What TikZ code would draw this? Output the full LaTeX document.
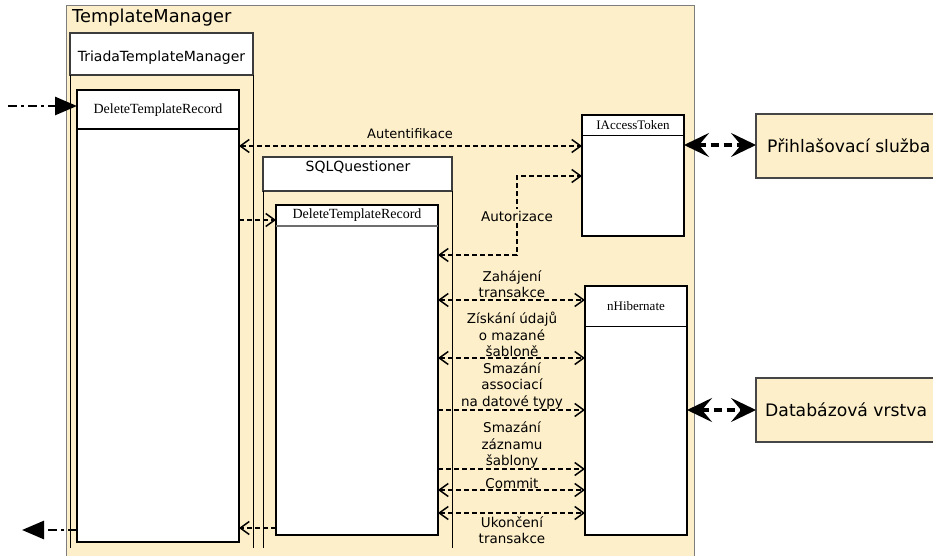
\documentclass[tikz,border=0pt]{standalone}
\usepackage{fontspec}
\setmainfont{DejaVu Sans}
\newfontfamily\headserif{Liberation Serif}
\usetikzlibrary{arrows.meta,calc}

\definecolor{cream}{RGB}{253,239,201}
\definecolor{frame}{RGB}{125,125,125}

\tikzset{
  box/.style={rectangle, anchor=north west, inner sep=0pt, outer sep=0pt},
  lifehead/.style={box, draw={rgb,255:red,60;green,60;blue,60}, line width=1.1pt, fill=white},
  activation/.style={box, draw=black, line width=2.2pt, fill=white},
  iface/.style={box, draw=black, line width=1.8pt, fill=white},
  extbox/.style={box, draw={rgb,255:red,70;green,70;blue,70}, line width=1.1pt, fill=cream},
  lifeline/.style={draw=black, line width=0.8pt},
  msg/.style={draw=black, line width=1.5pt, dash pattern=on 5pt off 3pt},
  msgtip/.tip={Straight Barb[length=9pt,width=13pt]},
  bigtip/.tip={Stealth[length=25pt,width=24pt,inset=10pt]},
  call/.style={draw=black, line width=2.8pt, dash pattern=on 9pt off 4pt on 3pt off 4pt,
    arrows={-Triangle[length=22pt,width=18pt]}},
  ext/.style={draw=black, line width=3.4pt, dash pattern=on 8pt off 5pt, arrows={bigtip-bigtip}},
  lbl/.style={align=center, inner sep=0pt, font=\fontsize{13.5}{16.5}\selectfont},
  serifhd/.style={inner sep=0pt, font=\headserif\fontsize{14}{16}\selectfont},
}

\begin{document}
\begin{tikzpicture}[x=1pt,y=-1pt]
\useasboundingbox (0,0) rectangle (933,556);
\clip (0,0) rectangle (933,556);

% component frame
\node[box, draw=frame, line width=1pt, fill=cream, minimum width=628, minimum height=570] (tm) at (66,6) {};
\node[anchor=west, inner sep=0pt, font=\fontsize{17.8}{20}\selectfont] (tmname) at (72,18) {TemplateManager};

% lifeline heads
\node[lifehead, minimum width=183, minimum height=42] (tri) at (70,33) {};
\node[inner sep=0pt, font=\fontsize{14}{16}\selectfont] (triname) at (161.5,58) {TriadaTemplateManager};
\draw[lifeline] (tri.south west) -- (tri.south west |- 0,548);
\draw[lifeline] (tri.south east) -- (tri.south east |- 0,548);

\node[lifehead, minimum width=189, minimum height=34] (sql) at (263,157) {};
\node[inner sep=0pt, font=\fontsize{14}{16}\selectfont] (sqlname) at (358,167) {SQLQuestioner};
\draw[lifeline] (sql.south west) -- (sql.south west |- 0,548);
\draw[lifeline] (sql.south east) -- (sql.south east |- 0,548);

% activations
\node[activation, minimum width=162, minimum height=452] (tdtr) at (77,90) {};
\draw[line width=1.3pt] ($(tdtr.north west)+(0,39)$) -- ($(tdtr.north east)+(0,39)$);
\node[serifhd] (tdtrname) at (158,110) {DeleteTemplateRecord};

\node[activation, minimum width=162, minimum height=330] (sdtr) at (276,205) {};
\draw[line width=1.8pt, draw={rgb,255:red,110;green,110;blue,110}] ($(sdtr.north west)+(0,21)$) -- ($(sdtr.north east)+(0,21)$);
\node[serifhd] (sdtrname) at (357,215) {DeleteTemplateRecord};

% interfaces
\node[iface, minimum width=102, minimum height=121] (iat) at (582,115) {};
\draw[line width=0.9pt] ($(iat.north west)+(0,20)$) -- ($(iat.north east)+(0,20)$);
\node[serifhd, font=\headserif\fontsize{13}{15}\selectfont] (iatname) at (633,125) {IAccessToken};

\node[iface, minimum width=102, minimum height=249] (nh) at (585,286) {};
\draw[line width=0.9pt] ($(nh.north west)+(0,40)$) -- ($(nh.north east)+(0,40)$);
\node[serifhd, font=\headserif\fontsize{13}{15}\selectfont] (nhname) at (636,306) {nHibernate};

% external systems
\node[extbox, minimum width=220, minimum height=64] (auth) at (756,114) {};
\node[anchor=west, inner sep=0pt, font=\fontsize{17.2}{20}\selectfont] (authname) at (767,146) {Přihlašovací služba};
\node[extbox, minimum width=220, minimum height=64] (db) at (756,378) {};
\node[anchor=west, inner sep=0pt, font=\fontsize{17.2}{20}\selectfont] (dbname) at (765,410) {Databázová vrstva};

\draw[ext] (iat.east |- 0,145) -- (auth.west |- 0,145);
\draw[ext] (nh.east |- 0,410) -- (db.west |- 0,410);

% incoming call and return
\coordinate (caller) at (8,106);
\coordinate (back) at (22,530);
\draw[call] (caller) -- (tdtr.west |- caller);
\draw[call] (tdtr.west |- back) -- (back);

% messages
\draw[msg, arrows={msgtip-msgtip}] (tdtr.east |- 0,146) -- (iat.west |- 0,146);
\node[lbl, font=\fontsize{13}{16.5}\selectfont] (l1) at (410,134) {Autentifikace};

\draw[msg, arrows={-msgtip}] (tdtr.east |- 0,220) -- (sdtr.west |- 0,220);

\coordinate (bend) at (517,255);
\draw[msg, arrows={msgtip-msgtip}] (sdtr.east |- bend) -- (bend) -- (bend |- 0,176) -- (iat.west |- 0,176);
\node[lbl, fill=cream, inner ysep=2pt] (l2) at (517,216) {Autorizace};

\draw[msg, arrows={msgtip-msgtip}] (sdtr.east |- 0,300) -- (nh.west |- 0,300);
\node[lbl] (l3) at (512,284) {Zahájení\\transakce};

\draw[msg, arrows={msgtip-msgtip}] (sdtr.east |- 0,358) -- (nh.west |- 0,358);
\node[lbl] (l4) at (512,334.5) {Získání údajů\\o mazané\\šabloně};

\draw[msg, arrows={-msgtip}] (sdtr.east |- 0,410) -- (nh.west |- 0,410);
\node[lbl] (l5) at (512,386) {Smazání\\associací\\na datové typy};

\draw[msg, arrows={-msgtip}] (sdtr.east |- 0,469) -- (nh.west |- 0,469);
\node[lbl] (l6) at (512,445) {Smazání\\záznamu\\šablony};

\draw[msg, arrows={msgtip-msgtip}] (sdtr.east |- 0,490) -- (nh.west |- 0,490);
\node[lbl] (l7) at (512,483) {Commit};

\draw[msg, arrows={msgtip-msgtip}] (sdtr.east |- 0,513) -- (nh.west |- 0,513);
\node[lbl] (l8) at (512,530) {Ukončení\\transakce};

\draw[msg, arrows={-msgtip}] (sdtr.west |- 0,528) -- (tdtr.east |- 0,528);
\end{tikzpicture}
\end{document}
